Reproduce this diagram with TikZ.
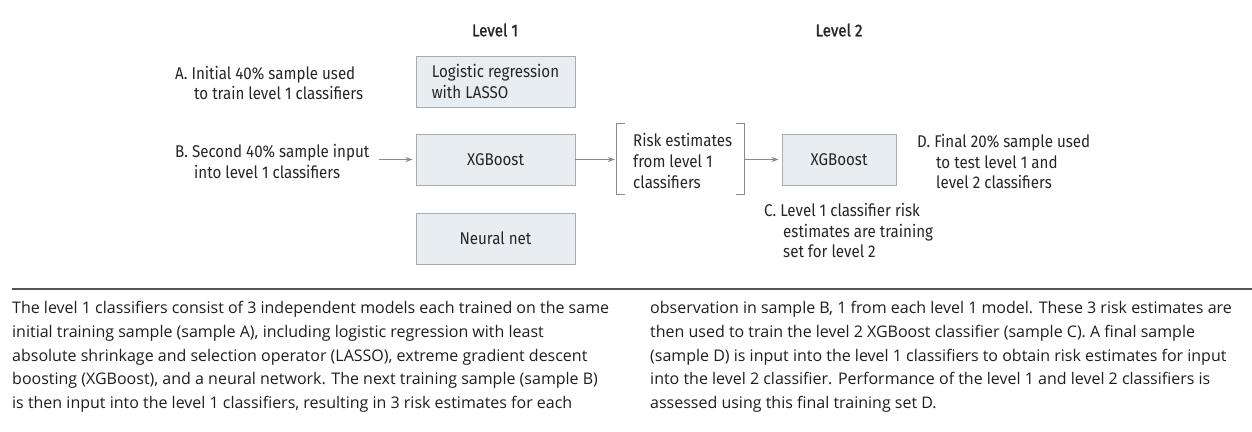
\documentclass[tikz,border=0pt]{standalone}
\usepackage{fontspec}
\setmainfont{Fira Sans}[FakeStretch=0.89]
\newfontfamily\headfont{Fira Sans}[FakeStretch=0.89, FakeBold=1.2]
\newfontfamily\capfont{Open Sans}
\usetikzlibrary{arrows.meta}
\definecolor{boxfill}{HTML}{E7EDF1}
\definecolor{boxline}{HTML}{ABABAB}
\definecolor{txt}{HTML}{262626}
\definecolor{arrowc}{HTML}{8A8A8A}
\definecolor{rulec}{HTML}{555555}
\definecolor{captxt}{HTML}{1E1E1E}
\newcommand{\dgfont}{\fontsize{17}{20.7}\selectfont\color{txt}}
\newcommand{\cpfont}{\capfont\fontsize{16}{23.7}\selectfont\color{captxt}}
\newcommand{\ind}{\hspace*{19pt}}
\begin{document}
\begin{tikzpicture}[x=1pt,y=-1pt,
  mbox/.style={draw=boxline, fill=boxfill, line width=0.9pt, minimum width=159pt,
    minimum height=51pt, inner sep=0pt, align=left, font=\dgfont},
  lbl/.style={anchor=west, inner sep=0pt, align=left, font=\dgfont},
  head/.style={inner sep=0pt, font=\headfont\dgfont},
  arr/.style={draw=arrowc, line width=0.9pt, -{Stealth[length=7pt,width=5pt]}},
  brk/.style={draw=arrowc, line width=0.9pt},
  captext/.style={anchor=west, inner sep=0pt, align=left, font=\cpfont}]
\useasboundingbox (0,0) rectangle (1252,431);
% headers
\node[head] (h1) at (495,30) {Level 1};
\node[head] (h2) at (839,30) {Level 2};
% level 1 boxes
\node[mbox] (lr) at (495.5,81.5) {Logistic regression\\with LASSO};
\node[mbox] (xg1) at (495.5,159.5) {XGBoost};
\node[mbox] (nn) at (495.5,238.5) {Neural net};
% level 2 box
\node[mbox, minimum width=114pt, minimum height=51pt] (xg2) at (839,159.5) {XGBoost};
% sample labels
\node[lbl] (A) at (175,83) {A. Initial 40\% sample used\\\ind to train level 1 classifiers};
\node[lbl] (B) at (175,161.5) {B. Second 40\% sample input\\\ind into level 1 classifiers};
\node[lbl] (D) at (917,161.5) {D. Final 20\% sample used\\\ind to test level 1 and\\\ind level 2 classifiers};
\node[lbl] (C) at (764,230.5) {C. Level 1 classifier risk\\\ind estimates are training\\\ind set for level 2};
% risk estimates bracket
\node[minimum width=127pt, minimum height=70pt, inner sep=0pt] (risk) at (680.5,159) {};
\node[lbl] (risktxt) at (633,161) {Risk estimates\\from level 1\\classifiers};
\draw[brk] ([xshift=8pt]risk.north west) -- (risk.north west) -- (risk.south west) -- ([xshift=8pt]risk.south west);
\draw[brk] ([xshift=-8pt]risk.north east) -- (risk.north east) -- (risk.south east) -- ([xshift=-8pt]risk.south east);
% arrows
\draw[arr, shorten <=9pt, shorten >=3pt] (B.east |- xg1.west) -- (xg1.west);
\draw[arr, shorten >=2pt] (xg1.east) -- (risk.west |- xg1.east);
\draw[arr, shorten >=3pt] (risk.east |- xg2.west) -- (xg2.west);
% rule
\coordinate (rl) at (12,289);
\coordinate (rr) at (1252,289);
\draw[draw=rulec, line width=1.6pt] (rl) -- (rr);
% caption
\node[captext] (c1) at (12,357) {The level 1 classifiers consist of 3 independent models each trained on the same\\
initial training sample (sample A), including logistic regression with least\\
absolute shrinkage and selection operator (LASSO), extreme gradient descent\\
boosting (XGBoost), and a neural network. The next training sample (sample B)\\
is then input into the level 1 classifiers, resulting in 3 risk estimates for each};
\node[captext] (c2) at (650,357) {observation in sample B, 1 from each level 1 model. These 3 risk estimates are\\
then used to train the level 2 XGBoost classifier (sample C). A final sample\\
(sample D) is input into the level 1 classifiers to obtain risk estimates for input\\
into the level 2 classifier. Performance of the level 1 and level 2 classifiers is\\
assessed using this final training set D.};
\end{tikzpicture}
\end{document}
